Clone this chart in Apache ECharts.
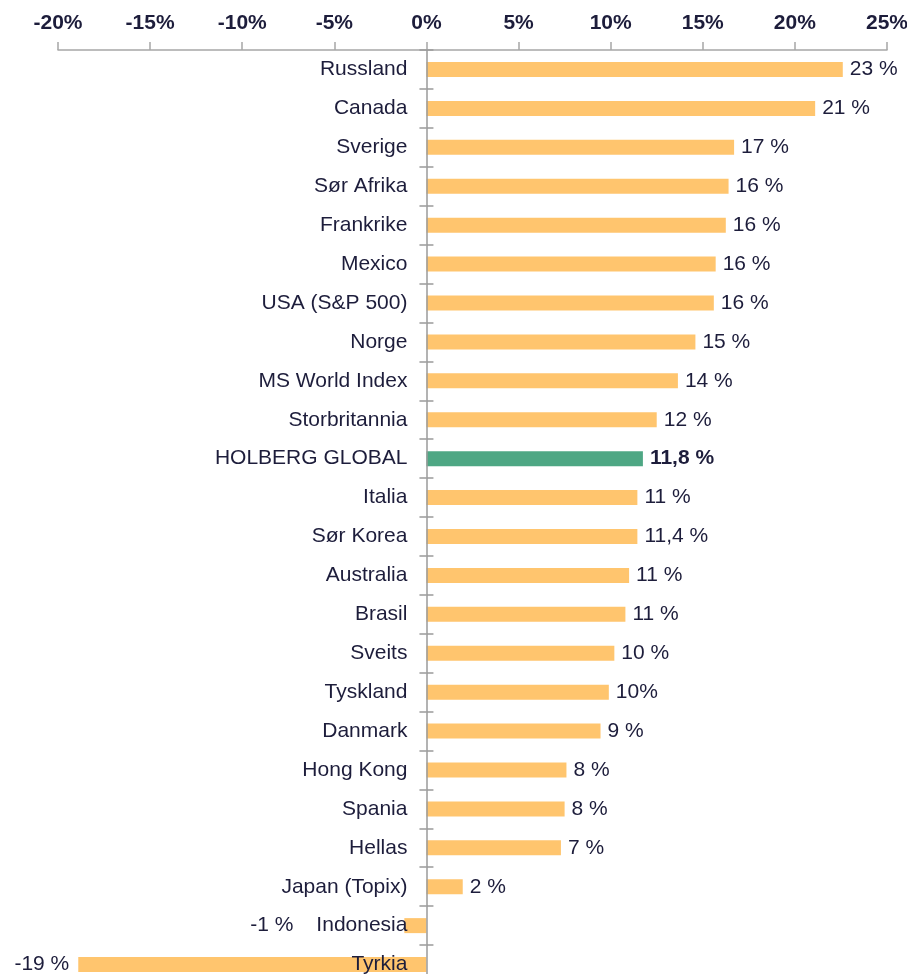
<!DOCTYPE html>
<html>
<head>
<meta charset="utf-8">
<script src="https://cdn.jsdelivr.net/npm/echarts@6/dist/echarts.min.js"></script>
<style>
  html, body { margin: 0; padding: 0; background: #fff; }
  #chart { width: 907px; height: 974px; }
</style>
</head>
<body>
<div id="chart"></div>
<script>
// land / indeks
const categories = [
  "Russland", "Canada", "Sverige", "Sør Afrika", "Frankrike", "Mexico",
  "USA (S&P 500)", "Norge", "MS World Index", "Storbritannia", "HOLBERG GLOBAL",
  "Italia", "Sør Korea", "Australia", "Brasil", "Sveits", "Tyskland", "Danmark",
  "Hong Kong", "Spania", "Hellas", "Japan (Topix)", "Indonesia", "Tyrkia"
];

// avkastning i prosent (lest av søylene)
const values = [
  22.6, 21.1, 16.7, 16.4, 16.25, 15.7,
  15.6, 14.6, 13.65, 12.5, 11.75,
  11.45, 11.45, 11.0, 10.8, 10.2, 9.9, 9.45,
  7.6, 7.5, 7.3, 1.97, -1.2, -18.9
];

// tekst ved søylene
const labelTexts = [
  "23 %", "21 %", "17 %", "16 %", "16 %", "16 %",
  "16 %", "15 %", "14 %", "12 %", "11,8 %",
  "11 %", "11,4 %", "11 %", "11 %", "10 %", "10%", "9 %",
  "8 %", "8 %", "7 %", "2 %", "-1 %", "-19 %"
];

const xTicks = [-20, -15, -10, -5, 0, 5, 10, 15, 20, 25];

const highlight = "HOLBERG GLOBAL";
const textColor = "#1d1d3b";
const font = "Liberation Sans, Arial, sans-serif";
const fontSize = 21;

// plassering av plottet
const gridLeft = 58;
const gridWidth = 829;
const gridTop = 50;
const gridHeight = 934;
const xMin = xTicks[0];
const xMax = xTicks[xTicks.length - 1];
// piksel for 0 % - kategoriaksen står her
const zeroX = gridLeft + gridWidth * (0 - xMin) / (xMax - xMin);

const myChart = echarts.init(document.getElementById("chart"));

const seriesData = values.map((v, i) => {
  const item = { value: v };
  if (categories[i] === highlight) {
    item.itemStyle = { color: "#4ea784" };
    item.label = { fontWeight: "bold" };
  }
  if (v < 0) {
    // negative verdier: tekst til venstre
    item.label = Object.assign({}, item.label, {
      position: "left",
      distance: categories[i] === "Indonesia" ? 111 : 9,
    });
  }
  return item;
});

const tickStyle = { color: "#9a9a9a", width: 1.5 };

const options = {
  animation: false,
  backgroundColor: "#fff",
  textStyle: { fontFamily: font },
  grid: [
    // søylene
    { left: gridLeft, top: gridTop, width: gridWidth, height: gridHeight, outerBoundsMode: "none" },
    // kategoriaksen ved 0 %
    { left: zeroX, top: gridTop, right: 0, height: gridHeight, outerBoundsMode: "none" },
  ],
  xAxis: [
    {
      type: "value",
      gridIndex: 0,
      position: "top",
      min: xMin,
      max: xMax,
      interval: 5,
      axisLine: { show: true, onZero: false, lineStyle: { color: "#a6a6a6", width: 1.5 } },
      axisTick: { show: true, length: 8, lineStyle: { color: "#a6a6a6", width: 1.5 } },
      splitLine: { show: false },
      axisLabel: {
        formatter: "{value}%",
        fontSize: fontSize,
        fontWeight: "bold",
        color: textColor,
        fontFamily: font,
        margin: 16,
      },
    },
    { type: "value", gridIndex: 1, show: false, min: 0, max: 1 },
  ],
  yAxis: [
    { type: "category", gridIndex: 0, data: categories, inverse: true, show: false },
    {
      type: "category",
      gridIndex: 1,
      data: categories,
      inverse: true,
      position: "left",
      z: 3,
      axisLine: { show: true, onZero: false, lineStyle: tickStyle },
      axisTick: { show: true, length: 7, lineStyle: tickStyle },
      axisLabel: {
        fontSize: fontSize,
        color: textColor,
        fontFamily: font,
        margin: 19,
      },
    },
    {
      // tikkene på høyre side av nullinjen
      type: "category",
      gridIndex: 1,
      data: categories,
      inverse: true,
      position: "left",
      offset: 0,
      axisLine: { show: false, onZero: false },
      axisTick: { show: true, inside: true, length: 7, lineStyle: tickStyle },
      axisLabel: { show: false },
    },
  ],
  series: [
    {
      type: "bar",
      xAxisIndex: 0,
      yAxisIndex: 0,
      data: seriesData,
      barWidth: 15,
      itemStyle: { color: "#ffc56e" },
      label: {
        show: true,
        position: "right",
        distance: 7,
        fontSize: fontSize,
        color: textColor,
        fontFamily: font,
        formatter: (p) => labelTexts[p.dataIndex],
      },
    },
  ],
};

myChart.setOption(options);
</script>
</body>
</html>
